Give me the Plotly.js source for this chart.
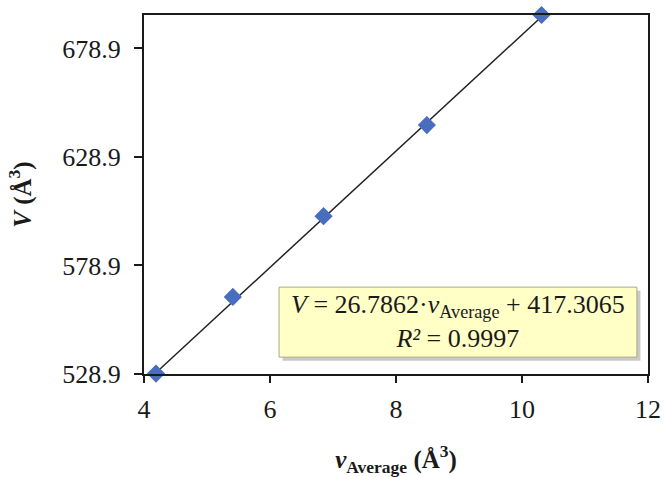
<!DOCTYPE html>
<html>
<head>
<meta charset="utf-8">
<script src="https://cdn.plot.ly/plotly-3.0.1.min.js"></script>
<style>html,body{margin:0;padding:0;background:#fff}#chart{width:664px;height:477px}</style>
</head>
<body>
<div id="chart"></div>
<script>
// Data
const vAverage = [4.19, 5.41, 6.85, 8.49, 10.31];
const volume = [529.1, 564.4, 601.6, 643.6, 694.3];
// Trendline end points (as drawn)
const trendX = [4.19, 10.31];
const trendY = [529.5, 693.5];
const yTickVals = [528.9, 578.9, 628.9, 678.9];
const yTickText = ["528.9", "578.9", "628.9", "678.9"];
const xTickVals = [4, 6, 8, 10, 12];
const eqLine1 = "<i>V</i> = 26.7862·<i>v</i><sub>Average</sub> + 417.3065";
const eqLine2 = "<i>R²</i> = 0.9997";

const serif = "Liberation Serif, Times New Roman, serif";

const traces = [
  {
    x: trendX, y: trendY, mode: "lines", type: "scatter",
    line: {color: "#222222", width: 1.5}, hoverinfo: "skip", showlegend: false
  },
  {
    x: vAverage, y: volume, mode: "markers", type: "scatter",
    marker: {symbol: "diamond", size: 14, color: "#4A6EBE"},
    showlegend: false, cliponaxis: false
  }
];

const layout = {
  width: 664, height: 477,
  margin: {l: 144, r: 16, t: 15, b: 103},
  paper_bgcolor: "#ffffff", plot_bgcolor: "#ffffff",
  font: {family: serif, size: 26, color: "#1a1a1a"},
  showlegend: false,
  xaxis: {
    range: [4, 12], tickvals: xTickVals, ticktext: xTickVals.map(String),
    showgrid: false, zeroline: false, showline: true, mirror: true,
    linecolor: "#1a1a1a", linewidth: 2, ticks: "outside", ticklen: 7, tickwidth: 2, tickcolor: "#1a1a1a",
    ticklabelstandoff: 4,
    tickfont: {family: serif, size: 26, color: "#1a1a1a"},
    title: {text: "<b><i>v</i><sub>Average</sub> (Å<sup>3</sup>)</b>", font: {family: serif, size: 25, color: "#1a1a1a"}, standoff: 36}
  },
  yaxis: {
    range: [528.9, 694.3], tickvals: yTickVals, ticktext: yTickText,
    showgrid: false, zeroline: false, showline: true, mirror: true,
    linecolor: "#1a1a1a", linewidth: 2, ticks: "outside", ticklen: 8, tickwidth: 2, tickcolor: "#1a1a1a",
    ticklabelstandoff: 8,
    tickfont: {family: serif, size: 26, color: "#1a1a1a"},
    title: {text: "<b><i>V</i> (Å<sup>3</sup>)</b>", font: {family: serif, size: 25, color: "#1a1a1a"}, standoff: 24}
  },
  shapes: [
    {type: "rect", xref: "paper", yref: "paper", x0: 0.275, x1: 0.985, y0: 0.037, y1: 0.232,
     fillcolor: "rgba(120,120,120,0.4)", line: {width: 0}, layer: "above"},
    {type: "rect", xref: "paper", yref: "paper", x0: 0.268, x1: 0.978, y0: 0.047, y1: 0.242,
     fillcolor: "#FFFFC6", line: {color: "#a8a888", width: 1}, layer: "above"}
  ],
  annotations: [
    {xref: "paper", yref: "paper", x: 0.623, y: 0.145, xanchor: "center", yanchor: "middle",
     text: eqLine1 + "<br>" + eqLine2, showarrow: false, align: "center",
     font: {family: serif, size: 26, color: "#1a1a1a"}}
  ]
};

Plotly.newPlot("chart", traces, layout, {displayModeBar: false, staticPlot: true});
</script>
</body>
</html>
